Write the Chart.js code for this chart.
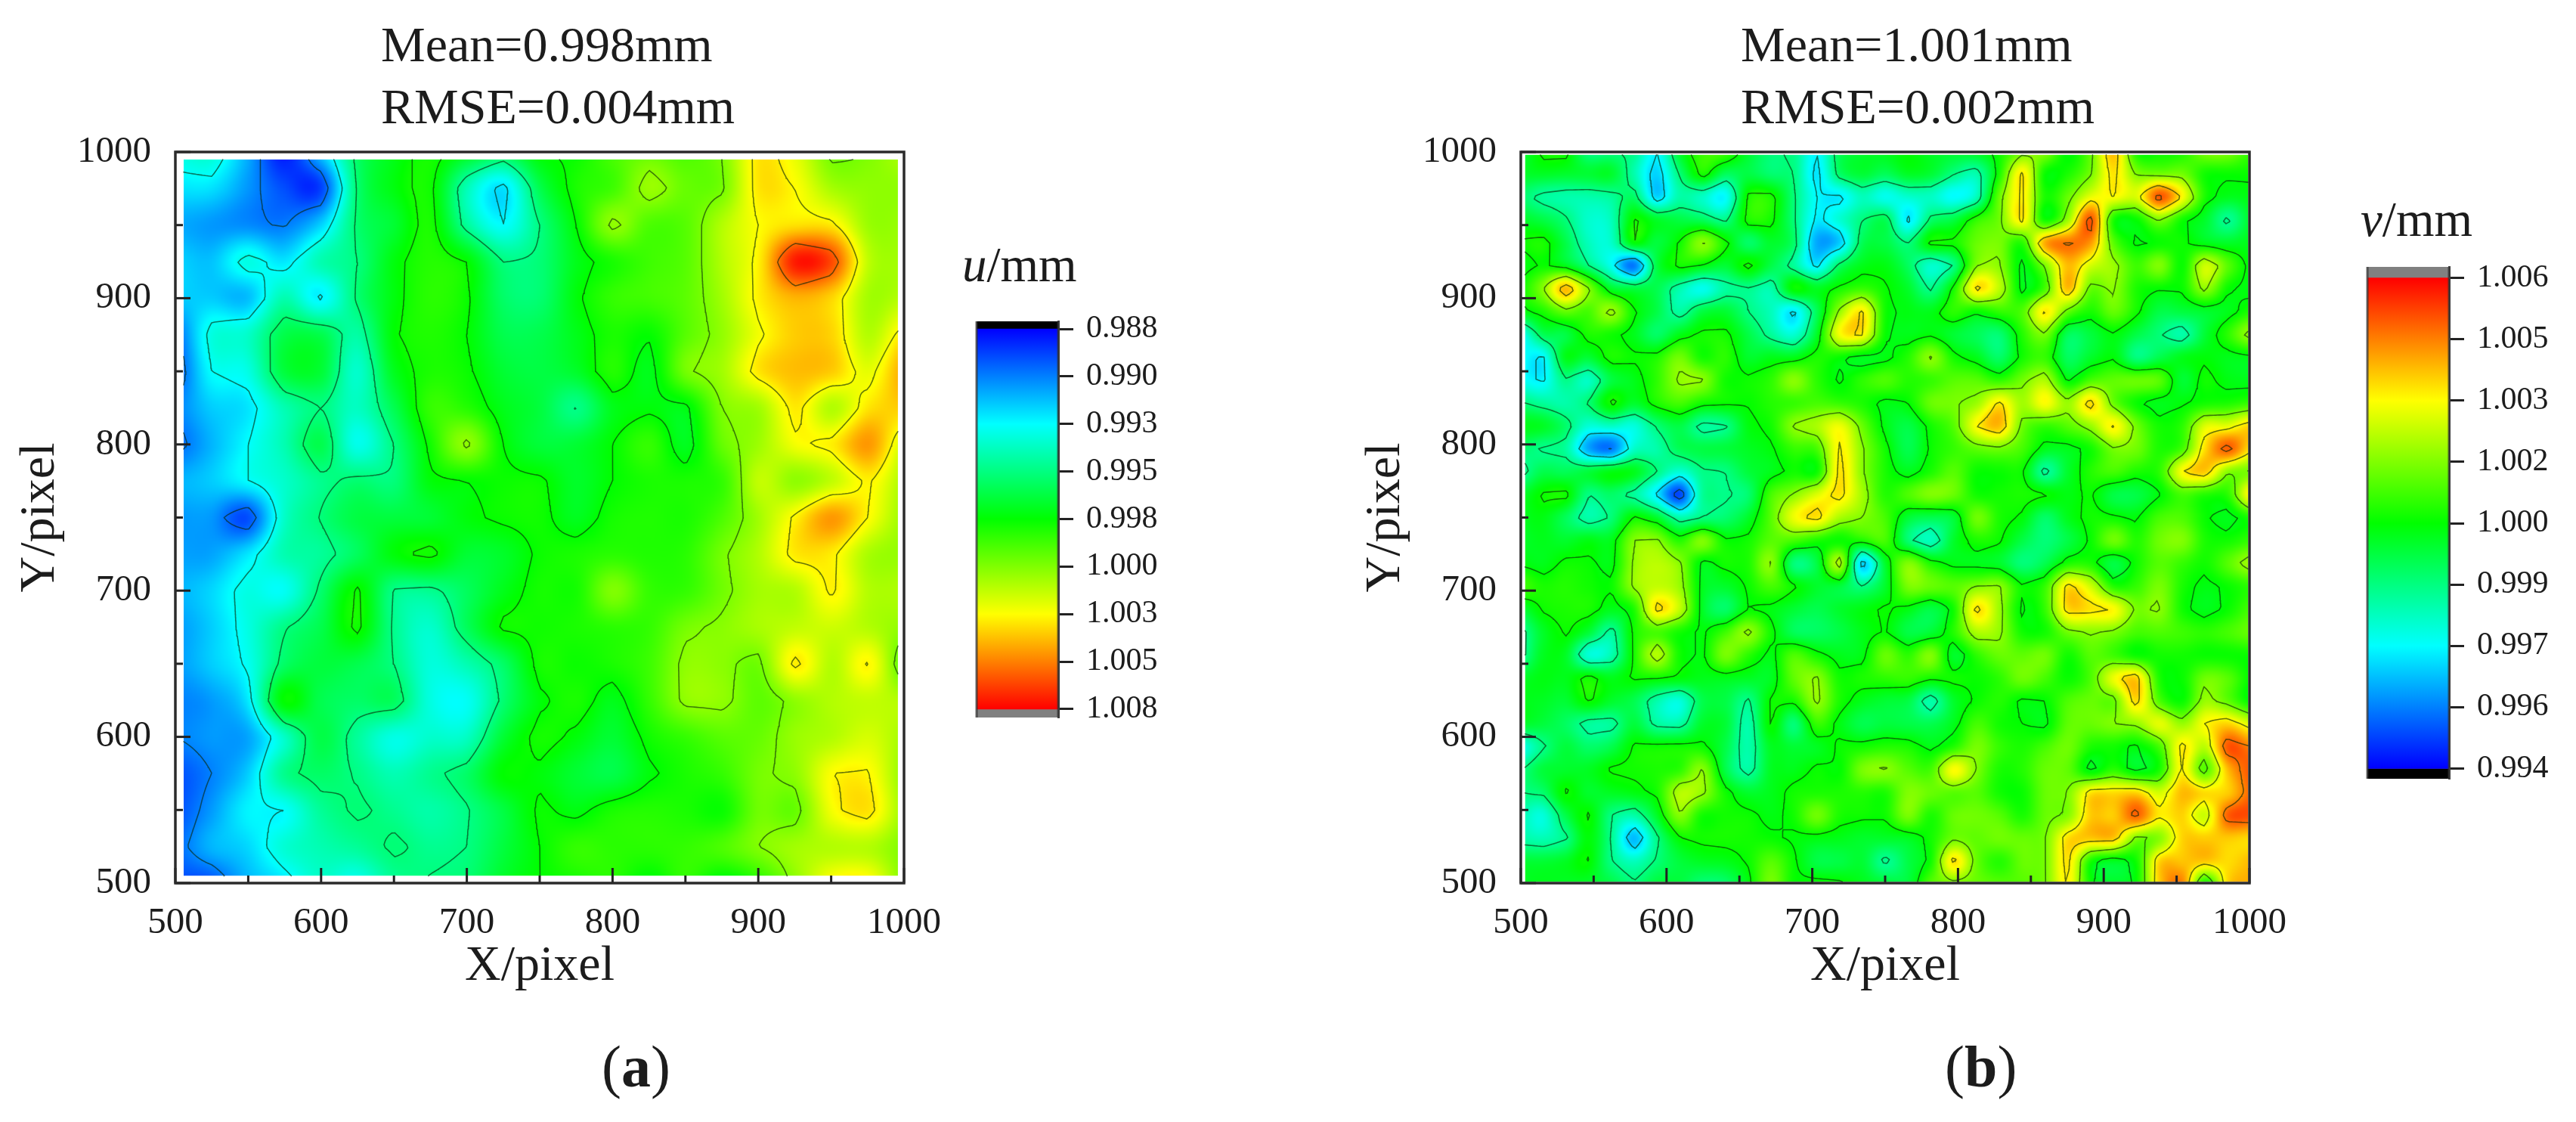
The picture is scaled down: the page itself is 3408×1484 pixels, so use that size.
<!DOCTYPE html>
<html>
<head>
<meta charset="utf-8">
<script src="https://cdn.jsdelivr.net/npm/chart.js@4/dist/chart.umd.min.js"></script>
<style>
html,body{margin:0;padding:0;background:#fff;}
#stage{position:relative;width:3408px;height:1484px;overflow:hidden;background:#fff;}
canvas{position:absolute;}
.t{position:absolute;white-space:nowrap;font-family:"Liberation Serif",serif;color:#1c1c1c;line-height:normal;}
</style>
</head>
<body>
<div id="stage">
  <canvas id="ca" width="1280" height="1484" style="left:0;top:0"></canvas>
  <canvas id="cb" width="1280" height="1484" style="left:1780px;top:0"></canvas>
  <canvas id="ba" width="270" height="570" style="left:1282px;top:400px"></canvas>
  <canvas id="bb" width="270" height="720" style="left:3122px;top:330px"></canvas>
  <div class="t" style="left:504px;top:21px;font-size:66px">Mean=0.998mm</div>
  <div class="t" style="left:504px;top:103px;font-size:66px">RMSE=0.004mm</div>
  <div class="t" style="left:2303px;top:21px;font-size:66px">Mean=1.001mm</div>
  <div class="t" style="left:2303px;top:103px;font-size:66px">RMSE=0.002mm</div>
  <div class="t" style="left:1273px;top:313px;font-size:65px"><i>u</i>/mm</div>
  <div class="t" style="left:3123px;top:253px;font-size:65px"><i>v</i>/mm</div>
  <div class="t" style="left:796px;top:1366px;font-size:78px">(<b>a</b>)</div>
  <div class="t" style="left:2573px;top:1366px;font-size:78px">(<b>b</b>)</div>
</div>
<script>
// ---------- data ----------
const xTicks = [500,550,600,650,700,750,800,850,900,950,1000];
const yTicks = [500,550,600,650,700,750,800,850,900,950,1000];
const uBarTicks = [0.988,0.9905,0.993,0.9955,0.998,1.0005,1.003,1.0055,1.008];
const uBarLabels = ['0.988','0.990','0.993','0.995','0.998','1.000','1.003','1.005','1.008'];
const vBarTicks = [1.006,1.0045,1.003,1.0015,1.000,0.9985,0.997,0.9955,0.994];
const vBarLabels = ['1.006','1.005','1.003','1.002','1.000','0.999','0.997','0.996','0.994'];
// displacement minus 1 mm, in micrometres; rows top (Y=1000) to bottom (Y=500), columns X=500 to 1000
const uDeviation = [
[-6.5,-6,-8.5,-11.5,-8,-4,-2.5,-1.5,-2.5,-3.5,-2,-1.8,-0.5,0,-0.5,0.5,3.5,2.5,0.2,0.5,1.5],
[-7.5,-7.5,-9,-10.5,-10.8,-4.3,-2.3,-1.7,-5.5,-7.5,-3.5,-1.5,-0.8,1,0,0.3,3.5,3,1.2,0.8,0.8],
[-8.6,-9,-9.3,-9.6,-8,-4.2,-3,-1.5,-5,-7,-4.5,-2,0.8,-0.5,-0.3,1.5,3,3.5,3.3,1,1],
[-7.8,-8.2,-6.5,-7.5,-5.5,-4.5,-2.3,-1.3,-2,-4.5,-4.3,-2.5,-1.5,-0.8,-0.3,1.5,3.3,7.5,6.5,1.7,1.2],
[-8,-8,-8.3,-5.5,-7.2,-4.3,-2.3,-1.2,-1.8,-4,-4.2,-2.2,-1,-0.7,-0.2,1.2,3.3,4.5,3.8,1.2,1.6],
[-10,-6.5,-6,-3.5,-3.5,-5.2,-2.1,-1.4,-2,-3.5,-3.5,-2.5,-1.5,-1.9,-0.3,0.9,2.8,4,3.8,1.5,3.5],
[-10.5,-7,-6.5,-3.2,-3,-6,-2.6,-1.5,-1.8,-3,-3.3,-2.8,-1.3,-2.5,0.3,1.2,3.5,4.3,4,2.5,4.8],
[-9.5,-8,-7.5,-5.5,-4.5,-5.8,-3.6,-1,-1.3,-2.5,-3.2,-4.6,-2.5,-2.2,-2.3,0.5,1.2,3.4,1.5,3.5,4],
[-10,-8.5,-7,-5.5,-3.5,-6.6,-4.5,-1.7,0.8,-2,-3.1,-3,-2,-1,-2.6,0,1.1,2.8,3.3,5,2],
[-8.5,-8,-7,-6,-4.8,-4.2,-4.4,-2.2,-2,-1.8,-1.8,-2.8,-2,-1.5,-1.5,-1,1.8,0.8,1.8,3.2,1.3],
[-9,-9,-10.5,-6,-4.4,-3.3,-3.2,-3,-2.2,-1.8,-1.7,-2.6,-1.6,-1.4,-1.5,-0.5,1.2,3.2,5,3,1],
[-8.8,-8.8,-7.5,-5.5,-5,-3.8,-2.2,-1.7,-3,-2.8,-1.8,-1.5,-1.2,-1.4,-1.2,0.3,1.5,3.4,3.3,1.3,0.9],
[-8.5,-7.8,-6.5,-6.8,-4.2,-1.8,-4.6,-4.8,-3.8,-2.5,-1.6,-1.6,0.5,-1,-1,0.2,1.2,1.5,3.2,1.5,1.4],
[-9,-8,-6.5,-4.6,-3.5,-1.7,-4.7,-6,-3.8,-1.8,-1.7,-1.5,-1.2,-1,0.3,0.7,1.3,1.8,2,1.5,0.8],
[-9,-8,-6.8,-4,-3.2,-3.5,-4.5,-6.3,-5.5,-4,-1.6,-1.8,-1.5,-0.8,0.8,0.7,0.2,3.3,1.5,3.1,-0.5],
[-9.5,-9,-7.5,-2,-3.5,-4,-3.8,-6.4,-6.8,-4.2,-2.2,-1.5,-2.5,-1,0.8,0.8,-0.2,0.8,1.5,1.8,1.5],
[-9.5,-9,-8.8,-6,-3.4,-5,-6.5,-6,-5.8,-3,-1.6,-2.2,-3,-1.7,-1,-0.3,0,1,1.5,2.2,1.2],
[-10.5,-9.5,-8,-4.8,-4,-4.6,-5.5,-4.8,-4,-2,-2.2,-3,-3.4,-2.2,-1.5,-1,0.3,0.8,3,3.1,0.8],
[-10.5,-9,-7.2,-7,-5,-4.3,-4.8,-5.3,-4.6,-3.3,-1.8,-2.3,-1.5,-1.3,-1.5,-1.8,0.2,0,2.8,3.5,1],
[-10,-8.5,-7.8,-6.2,-5.5,-5,-4.3,-4.8,-4.5,-3.2,-2,-1,-1.2,-1.2,-1,-0.5,0.5,1.2,1.5,1.5,0.5],
[-10.5,-10.5,-8.5,-7.5,-6,-6.8,-5,-4.4,-4.2,-2.8,-2,-1.6,-1.2,-2.2,-1,-2.3,-1.3,0.8,3.2,3.3,0.5]
];
const vDeviation = [
[-0.8,0.2,0.2,-1.5,-1.5,-1.6,-3,-0.5,0.7,0.8,-0.5,-1.4,-1.6,-3,-1,-0.5,-0.3,0,-0.4,-0.5,-0.3,0.2,1.2,1.6,-0.1,1.2,3.8,0.2,0.1,0.3,1.5,1.5,0.6],
[-0.5,-0.4,-0.5,-0.6,-0.5,-2,-3.5,-1.4,0.3,-1,-0.8,-1.3,-1.5,-3.3,-1.2,-0.6,-1,-0.4,-0.6,-1.5,-2,0.3,3.2,0.1,0.3,1.4,3.3,1.5,1.3,1.3,0.2,0.1,0.1],
[-1.2,-1.8,-2,-2,-1.8,-1.2,-3.5,-2,-2.3,-3,0.2,0.3,-1.4,-3,-3.2,-2.2,-2.8,-2.4,-2.3,-3,-2.2,1.2,3.2,0.3,1.2,2.7,3,2.6,5,3,0.3,-0.3,-0.2],
[-0.5,-0.8,-1.4,-2.4,-2.2,0.1,-0.5,-0.8,-1.1,-1.6,0.3,0.2,-1.4,-3.2,-2.5,-1.5,-1,-3.2,-1.3,-0.8,0.5,1.3,3.2,0.1,1.8,5,0.3,0.1,1.5,0.2,-0.5,-1.7,-0.5],
[0.1,0.3,-0.8,-2.2,-2.4,0,-0.7,0.1,1.6,0.2,-1.2,-0.5,-1.2,-4,-3.6,-1,-0.8,-1.5,0.15,0.2,1.2,1.4,0.5,4,4.6,4.2,1,-0.1,0.1,0.15,-0.3,-0.5,-0.3],
[-0.3,0.1,-0.3,-1.5,-2.8,-4.6,-0.8,0.2,-0.1,-0.6,0.2,-0.8,-1.8,-3.2,-1.2,-0.3,-0.2,-1.1,-2.4,-1.5,1.5,1.6,-0.2,1.5,3.8,2.5,1.8,0.7,1.5,0.1,2.4,1,-0.2],
[0.1,1.5,3.8,1.6,-0.5,-0.8,-0.9,-2,-2.8,-1.9,-1.6,-2,0.1,-0.4,0.2,0.6,0.1,-0.5,-1.6,0.2,3.3,2.2,-0.2,0.8,3.8,1.2,1.6,0.3,0.05,0.1,1.7,0.1,-0.2],
[-0.2,0.3,1.2,0.8,1.8,0.1,-0.8,-1.9,-0.8,-0.6,-1.5,-2.2,-3.2,-1,1.7,3.2,0.2,-0.2,-0.3,0.5,0.1,0.6,0.9,3.2,1.2,0.3,1.2,0.2,-0.8,-0.7,-0.5,-0.3,0.3],
[-3,-1,-0.8,0.3,0.2,-0.3,-1.2,-0.3,0.2,0.2,-0.8,-1.8,-2.5,-0.5,2.9,3.1,0.1,-0.3,-0.1,-0.6,-1,-1.3,0.4,1.4,-1,-0.7,-0.1,-0.8,-1.4,-2,-0.6,0.5,1.8],
[-2.8,-3.1,-0.3,-0.6,0.3,0.1,0.3,1.3,0.2,0.5,-0.5,-0.3,-0.3,0.3,0.1,-0.3,-0.2,0.4,1.6,0.2,-0.3,-1.2,0.2,0.6,-1.1,-0.5,-0.1,-1.5,-0.9,-0.3,-0.1,-0.3,-0.2],
[-2.8,-3.1,-1.6,-2.3,-0.8,-0.3,0.5,1.7,1.6,0.2,0.15,0.5,1.6,0.5,-0.1,0.5,0.9,0.4,0.6,1,1,0.5,1.3,2,-0.1,0.8,1.1,1.2,1,-0.6,0.2,-0.2,-0.3],
[-1.4,-1.8,-2,-1.4,0.2,-0.5,0.3,0.8,0.2,0.1,0.05,0.4,0.6,0.8,0.6,0.3,-0.2,0,1.2,1.4,1.8,3.2,1.9,3,1.8,3.4,1.2,0.1,-0.3,-0.1,0.2,0.3,0.6],
[-0.3,-0.4,-1.2,-2.5,-2.3,-2.6,-1.4,-0.8,-1.8,-1.6,-0.2,0.2,1.6,2,2.8,1.2,-0.2,-0.8,0.2,1,3,3.8,1.3,0.6,1,1.8,3.1,1.3,0.2,0.5,2.6,2.7,3.5],
[-1.2,-1.6,-1.8,-4,-4.6,-2.4,-2,-1,-0.8,-0.7,-0.4,-0.1,0.6,0.8,3.1,1.6,0.2,-0.9,0.1,0.6,1.1,1.3,0.8,-0.3,-0.3,0.2,1.4,1.3,0.3,0.8,3.4,4.9,3.3],
[-1.8,-0.9,-1,-0.7,-0.2,-0.3,-1.5,-2.5,-1.6,-1.5,-0.7,-0.3,0.2,0.1,3.3,1.6,0.3,-0.3,0.3,1,0.1,0.1,0.1,-1.8,-0.5,0.4,0.8,0.3,0.5,3,3.6,1.6,1.4],
[-0.6,0.1,0.2,-1.5,-1.2,-1.8,-3.2,-5.2,-1.8,-1.6,-1.3,0.8,1.6,2.6,3.3,1.9,0.4,0.9,1.5,1.2,0.2,0.2,0.3,0.1,-0.2,0.1,-0.8,-0.8,-0.1,0.8,0.4,0.5,3.2],
[-0.4,-0.2,-1,-2,-1.4,0.1,-0.5,-2,-1.5,-1.3,-0.5,1,2.8,3.3,2,1.5,0.8,-0.6,-0.9,-0.6,1.3,0.3,-0.1,-1.2,-0.3,0.2,0.1,-0.1,0.8,0.9,0.1,-0.3,0.3],
[-0.5,-0.3,-0.5,-0.2,-0.3,1.5,1.6,0.4,1.5,0.1,0.2,1,0.8,0.3,0.1,0.3,0.8,-1.3,-2.2,-0.5,0.3,0.1,-0.8,-1.4,-0.8,0.1,1.3,0.4,1.3,1.5,0.3,0.2,0.6],
[-0.1,-0.3,0.15,0.1,-0.2,1.7,2.2,1.6,-0.2,0.2,0.3,1.6,-1.4,-0.8,2,-3.5,-0.5,1.5,0.3,-0.2,-0.3,-0.5,-1.4,-0.9,0.3,0.3,-0.8,0.2,1,0.6,0.2,1,1.9],
[0.8,0.3,0.4,0.2,0.1,1.7,2.3,1.8,-0.3,-0.5,0.1,0.8,0.1,-0.5,-0.7,-1.5,-0.5,1.4,1.2,1,1.5,1.6,0.1,0.6,3.3,2.4,0.4,0.6,1.4,0.3,-0.2,0.1,0.5],
[-0.7,0.1,0.3,0.3,-0.3,0.3,3.3,2.3,-0.4,-1.2,0,-0.2,-0.6,-0.9,-0.5,-0.2,0.1,-0.2,-0.8,0.2,3.3,1.8,-0.1,0.6,3.4,3.3,3,1.4,1.6,0.2,-0.3,0.1,0.8],
[-1.8,-0.5,0.1,-0.6,-1.8,0.2,0.8,0.2,-0.1,0.7,1.7,0.2,-1,-1.1,-0.8,-0.3,0.05,-0.8,-0.6,0.4,2,1.7,0.2,0.2,1.3,1.6,1.4,0.8,0.9,0.7,0.5,0.8,1.2],
[-1.8,-0.4,-0.4,-2.5,-2.1,0.2,2.1,0.2,-0.1,1.4,0.5,-0.2,0.9,0.2,-0.3,-0.2,1.2,0.5,1.5,-0.5,0.5,1.2,1.1,1.3,0.2,1,0.7,0.1,0.2,0.2,0.1,0.1,0.1],
[-0.5,-0.2,-0.3,0.2,-0.3,0.1,0.1,-0.1,-0.3,-0.3,-0.4,-0.4,1.1,1.6,0.2,0.3,0.5,0.6,0.2,0.2,0.1,0.5,1.3,0.8,0.1,0.9,2.8,3.5,0.3,0.1,1.3,1,0],
[-0.3,-0.4,-0.6,0.1,-0.5,-0.9,-2,-2.6,-0.9,-0.8,-1.6,0.1,0.2,1.7,0.3,-0.3,-0.6,-0.8,-2,-0.5,0.1,0.4,-0.1,0,0.9,1.2,1.2,3.4,0.9,0.1,1.8,1.1,0],
[-0.5,-0.7,-1.1,-1.8,-1.8,-0.7,-1.8,-1.9,-0.5,-0.6,-2,0.1,-1.4,0.6,-0.2,-0.9,-0.7,-0.8,-0.9,-0.3,0.8,0.2,0,-0.2,1.1,1.2,1.5,1.7,2.7,1.8,3,3.5,2.6],
[-2.8,-1.6,-0.7,-1.2,-0.9,0.1,0.15,0.2,0.15,-0.8,-2,-0.4,-0.6,-0.4,0.1,0.2,0.4,0.3,-0.2,0.4,1.4,0.6,0.3,0.8,1.3,0.3,0.2,-0.1,0.8,3.2,2.2,5,4.5],
[-1.6,-0.7,-0.5,-0.4,0.1,0.2,0.3,0.5,1.6,-0.8,-1.9,-0.4,-0.3,0.1,0,1.4,1.6,1,0.8,3,1.5,0.3,0.4,1.2,1.1,-0.2,0.5,-0.3,0.3,3.1,1,3.8,5],
[-1.5,-1.3,0.1,-0.5,-0.4,-0.2,0.2,2.1,1.7,0.2,-0.5,-0.3,0.2,0.3,0.3,0.4,0.3,1.5,1.2,1,1,0.2,0.1,1.2,1.5,3.3,3.4,3.5,2.5,3.8,3.4,3.6,4.8],
[-2,-2.6,-0.9,0.1,-1.5,-2,-0.5,1.5,0.2,0.2,0.15,-0.2,0.2,1.3,0.3,0.15,0.15,1.4,0.3,1.2,1.3,1,0.3,1.2,1.6,3.6,3.6,4.8,3.2,3.5,2.4,4.9,5.1],
[-1.9,-2.1,-1.6,-0.1,-1.6,-3.8,-1.6,0,0.2,0.25,0.2,0.1,-0.1,-0.2,-0.3,-0.5,-0.5,-0.4,0.2,1.3,1.1,1.3,1.2,1.4,3.4,3.6,3.6,1.4,1.6,3.5,3.6,3.6,3.4],
[-0.6,-0.6,-0.4,0.05,-1.5,-2.2,-1.4,-0.7,-0.4,-0.3,0.1,1,0.1,-0.8,-0.8,-0.6,-1.7,-0.8,0.2,3.3,1.2,0.4,1.2,1.4,3.3,0.2,-0.4,0.2,3.5,3.7,3.6,3.4,3.8],
[-0.4,-0.3,-0.4,-0.5,-0.8,-1.4,-0.7,-0.7,-1.4,-1.3,-0.2,1.4,0.1,0.2,0.1,-0.3,-0.6,-0.7,1,1.3,1.2,1,1,1.4,3.1,0.1,-0.5,0.1,3.6,4.5,0.1,3.5,4]
];
const uLevels = [-9.5,-7,-4.5,-2,0.5,3,5.5];
const vLevels = [-4.5,-3,-1.5,0,1.5,3,4.5];
const uRange = [-12,8];
const vRange = [-6,6];
const uExtent = {x0:505.7,x1:995.8,y0:505,y1:994.8};
const vExtent = {x0:503,x1:999,y0:501,y1:998};

// ---------- helpers ----------
const rainbow = [[0,0,255],[0,128,255],[0,255,255],[0,255,128],[0,255,0],[128,255,0],[255,255,0],[255,128,0],[255,0,0]];
function colorAt(t){
  t=Math.max(0,Math.min(1,t))*(rainbow.length-1);
  const i=Math.min(rainbow.length-2,Math.floor(t)),f=t-i,a=rainbow[i],b=rainbow[i+1];
  return [a[0]+(b[0]-a[0])*f,a[1]+(b[1]-a[1])*f,a[2]+(b[2]-a[2])*f];
}
function makeSampler(grid){
  const n=grid.length,step=500/(n-1);
  const at=(r,c)=>grid[Math.max(0,Math.min(n-1,r))][Math.max(0,Math.min(n-1,c))];
  const cr=(p0,p1,p2,p3,t)=>0.5*((2*p1)+(-p0+p2)*t+(2*p0-5*p1+4*p2-p3)*t*t+(-p0+3*p1-3*p2+p3)*t*t*t);
  return (xv,yv)=>{
    const fx=(xv-500)/step,fy=(1000-yv)/step;
    const c=Math.min(n-2,Math.floor(fx)),r=Math.min(n-2,Math.floor(fy)),tx=fx-c,ty=fy-r;
    const row=[];
    for(let k=-1;k<3;k++) row.push(cr(at(r+k,c-1),at(r+k,c),at(r+k,c+1),at(r+k,c+2),tx));
    return cr(row[0],row[1],row[2],row[3],ty);
  };
}
function makeLinearSampler(grid){
  const n=grid.length,step=500/(n-1);
  return (xv,yv)=>{
    const fx=(xv-500)/step,fy=(1000-yv)/step;
    const c=Math.min(n-2,Math.floor(fx)),r=Math.min(n-2,Math.floor(fy)),tx=fx-c,ty=fy-r;
    const top=grid[r][c]*(1-tx)+grid[r][c+1]*tx,bot=grid[r+1][c]*(1-tx)+grid[r+1][c+1]*tx;
    return top*(1-ty)+bot*ty;
  };
}
function contourPoints(sample,levels,ext){
  const N=230,pts=[],dx=(ext.x1-ext.x0)/N,dy=(ext.y1-ext.y0)/N;
  const f=[];
  for(let j=0;j<=N;j++){const r=[];for(let i=0;i<=N;i++)r.push(sample(ext.x0+i*dx,ext.y0+j*dy));f.push(r);}
  for(const L of levels){
    for(let j=0;j<N;j++)for(let i=0;i<N;i++){
      const a=f[j][i],b=f[j][i+1],c=f[j+1][i+1],d=f[j+1][i];
      const x=ext.x0+i*dx,y=ext.y0+j*dy,e=[];
      if((a<L)!==(b<L))e.push({x:x+dx*(L-a)/(b-a),y});
      if((b<L)!==(c<L))e.push({x:x+dx,y:y+dy*(L-b)/(c-b)});
      if((d<L)!==(c<L))e.push({x:x+dx*(L-d)/(c-d),y:y+dy});
      if((a<L)!==(d<L))e.push({x,y:y+dy*(L-a)/(d-a)});
      for(let k=0;k+1<e.length;k+=2){pts.push(e[k],e[k+1],{x:NaN,y:NaN});}
    }
  }
  return pts;
}
const serif='"Liberation Serif", serif';
const ink='#1c1c1c';

function contourChart(id,grid,levels,range,ext,name){
  const sample=makeSampler(grid),lineSample=makeLinearSampler(grid),n=grid.length,step=500/(n-1),cells=[];
  for(let r=0;r<n;r++)for(let c=0;c<n;c++)cells.push({x:500+c*step,y:1000-r*step,v:1+grid[r][c]/1000});
  const field={id:'field',
    beforeDatasetsDraw(chart){
      const {x:xs,y:ys}=chart.scales,ctx=chart.ctx;
      const W=480,H=480,off=document.createElement('canvas');off.width=W;off.height=H;
      const oc=off.getContext('2d'),img=oc.createImageData(W,H);
      for(let j=0;j<H;j++)for(let i=0;i<W;i++){
        const xv=ext.x0+(i+.5)/W*(ext.x1-ext.x0),yv=ext.y1-(j+.5)/H*(ext.y1-ext.y0);
        const col=colorAt((sample(xv,yv)-range[0])/(range[1]-range[0])),p=(j*W+i)*4;
        img.data[p]=col[0];img.data[p+1]=col[1];img.data[p+2]=col[2];img.data[p+3]=255;
      }
      oc.putImageData(img,0,0);
      const px0=xs.getPixelForValue(ext.x0),px1=xs.getPixelForValue(ext.x1),py1=ys.getPixelForValue(ext.y1),py0=ys.getPixelForValue(ext.y0);
      ctx.save();ctx.beginPath();ctx.rect(px0,py1,px1-px0,py0-py1);ctx.clip();
      ctx.imageSmoothingEnabled=true;ctx.filter='blur(1.2px)';
      ctx.drawImage(off,px0-2,py1-2,px1-px0+4,py0-py1+4);
      ctx.restore();
    },
    afterDraw(chart){
      const {x:xs,y:ys}=chart.scales,ctx=chart.ctx,a=chart.chartArea;
      ctx.save();ctx.strokeStyle='#222';ctx.lineWidth=3;
      xs.ticks.forEach(t=>{const p=xs.getPixelForValue(t.value),len=(t.value%100===0)?20:10;
        ctx.beginPath();ctx.moveTo(p,a.bottom);ctx.lineTo(p,a.bottom-len);ctx.stroke();});
      ys.ticks.forEach(t=>{const p=ys.getPixelForValue(t.value),len=(t.value%100===0)?20:10;
        ctx.beginPath();ctx.moveTo(a.left,p);ctx.lineTo(a.left+len,p);ctx.stroke();});
      ctx.lineWidth=3.5;ctx.strokeStyle='#2b2b2b';ctx.strokeRect(a.left,a.top,a.right-a.left,a.bottom-a.top);
      ctx.restore();
    }};
  return new Chart(document.getElementById(id),{
    type:'scatter',
    data:{datasets:[
      {label:name,data:cells,pointRadius:0,showLine:false},
      {label:name+' contours',data:contourPoints(lineSample,levels,ext),showLine:true,spanGaps:false,
       borderColor:'rgba(10,40,10,0.62)',borderWidth:1.6,pointRadius:0,tension:0,borderCapStyle:'round'}
    ]},
    options:{responsive:false,animation:false,events:[],
      layout:{padding:{top:201,right:84,bottom:156,left:0}},
      plugins:{legend:{display:false},tooltip:{enabled:false},title:{display:false}},
      scales:{
        x:{type:'linear',min:500,max:1000,
          afterBuildTicks(s){s.ticks=xTicks.map(v=>({value:v}));},
          afterFit(s){s.height=160;s.paddingLeft=0;s.paddingRight=0;},
          grid:{display:false},border:{display:false},
          ticks:{autoSkip:false,maxRotation:0,padding:16,color:ink,font:{family:serif,size:49},callback:v=>v%100===0?String(v):''},
          title:{display:true,text:'X/pixel',color:ink,font:{family:serif,size:66},padding:{top:0,bottom:10}}},
        y:{type:'linear',min:500,max:1000,
          afterBuildTicks(s){s.ticks=yTicks.map(v=>({value:v}));},
          afterFit(s){s.width=232;s.paddingTop=0;s.paddingBottom=0;},
          grid:{display:false},border:{display:false},
          ticks:{autoSkip:false,padding:24,color:ink,font:{family:serif,size:49},callback:v=>v%100===0?String(v):''},
          title:{display:true,text:'Y/pixel',color:ink,font:{family:serif,size:66},padding:{top:14,bottom:0}}}
      }
    },
    plugins:[field]
  });
}

function colorBar(id,ticks,labels,span,lo,hi,reverse,pad){
  const grad=ctx=>{
    const c=ctx.chart;if(!c.chartArea)return '#0f0';
    const y=c.scales.y,g=c.ctx.createLinearGradient(0,y.getPixelForValue(lo),0,y.getPixelForValue(hi));
    rainbow.forEach((s,i)=>g.addColorStop(i/(rainbow.length-1),`rgb(${s[0]},${s[1]},${s[2]})`));
    return g;
  };
  return new Chart(document.getElementById(id),{
    type:'bar',
    data:{labels:['scale'],datasets:[
      {data:[[lo,hi]],backgroundColor:grad,borderWidth:0},
      {data:[[span[0],lo]],backgroundColor:'#000',borderWidth:0},
      {data:[[hi,span[1]]],backgroundColor:'#808080',borderWidth:0}
    ]},
    options:{responsive:false,animation:false,events:[],
      datasets:{bar:{grouped:false,barPercentage:1,categoryPercentage:1}},
      layout:{padding:pad},
      plugins:{legend:{display:false},tooltip:{enabled:false}},
      scales:{
        x:{display:false},
        y:{type:'linear',position:'right',reverse,min:span[0],max:span[1],
          afterBuildTicks(s){s.ticks=ticks.map(v=>({value:v}));},
          afterFit(s){s.width=152;s.paddingTop=0;s.paddingBottom=0;},
          grid:{drawOnChartArea:false,drawTicks:true,tickLength:20,tickWidth:3,tickColor:'#222'},
          border:{display:true,color:'#444',width:3},
          ticks:{autoSkip:false,padding:17,color:ink,font:{family:serif,size:42},
            callback:(v,i)=>labels[i]}}
      }
    },
    plugins:[{id:'barFrame',afterDraw(c){const a=c.chartArea,x=c.ctx;x.save();x.strokeStyle='rgba(50,50,50,.75)';x.lineWidth=3;
      x.beginPath();x.moveTo(a.left,a.top);x.lineTo(a.left,a.bottom);x.moveTo(a.right,a.top);x.lineTo(a.right,a.bottom);x.stroke();x.restore();}}]
  });
}

contourChart('ca',uDeviation,uLevels,uRange,uExtent,'u');
contourChart('cb',vDeviation,vLevels,vRange,vExtent,'v');
colorBar('ba',uBarTicks,uBarLabels,[0.9876,1.00844],0.988,1.008,true,{left:10,top:25,bottom:21,right:0});
colorBar('bb',vBarTicks,vBarLabels,[0.99375,1.00627],0.994,1.006,false,{left:10,top:23,bottom:20,right:0});
</script>
</body>
</html>
